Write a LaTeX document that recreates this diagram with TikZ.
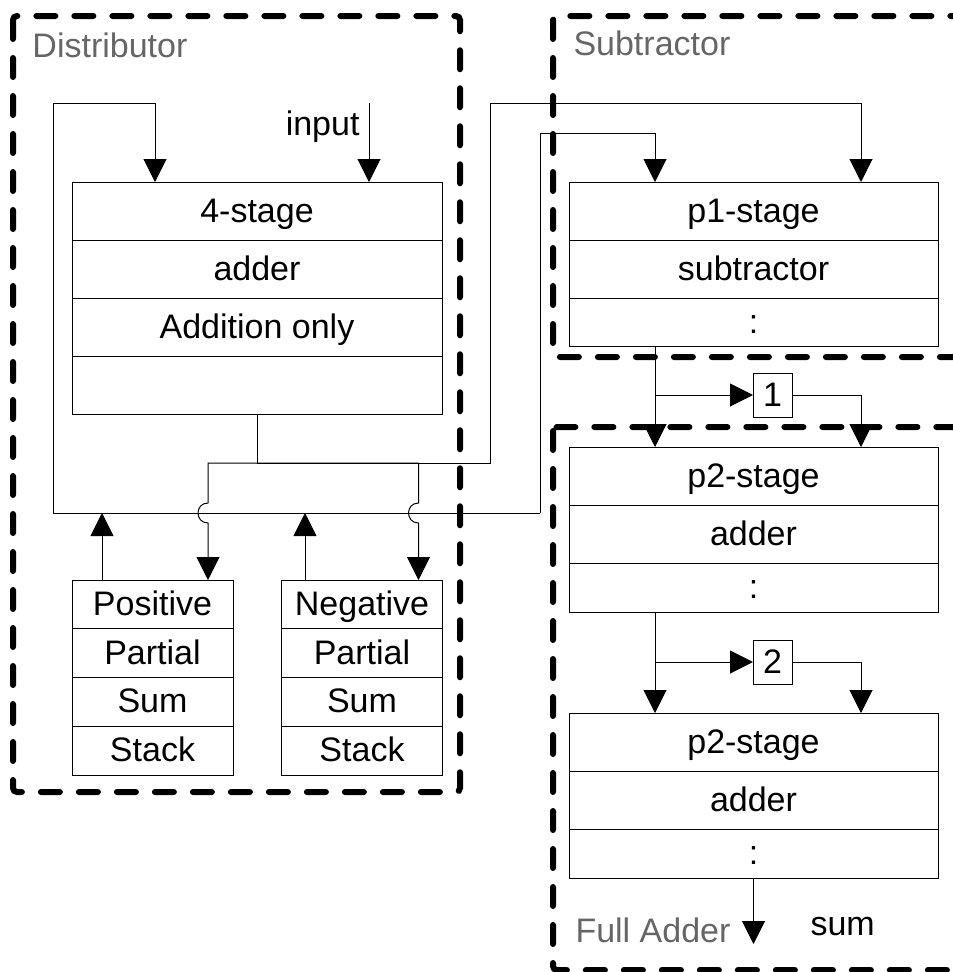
\documentclass[tikz,border=0pt]{standalone}
\usepackage{fontspec}
\setmainfont{Liberation Sans}
\usetikzlibrary{arrows.meta,calc}
\newcommand\diagfont{\fontsize{25.5pt}{30pt}\selectfont}
\begin{document}
\begin{tikzpicture}[x=0.75pt,y=-0.75pt,
  line width=0.75pt,
  cell/.style={draw, inner sep=0pt, outer sep=0pt, minimum height=43.5pt,
    text height=18.5pt, text depth=2pt, font=\diagfont},
  wide/.style={cell, minimum width=277.5pt},
  pcell/.style={cell, minimum width=276.75pt},
  stackcell/.style={cell, minimum width=120.75pt, minimum height=36.5625pt},
  delay/.style={cell, minimum width=29.25pt, minimum height=33pt},
  frame/.style={draw, line width=4.5pt, dash pattern=on 14.25pt off 14.25pt,
    line cap=round, rounded corners=3pt},
  framelabel/.style={anchor=base west, inner sep=0pt, text=black!60, font=\diagfont},
  plain/.style={anchor=base west, inner sep=0pt, font=\diagfont},
  arr/.style={-{Triangle[length=17.25pt,width=17.25pt]}},
]
\useasboundingbox (0,0) rectangle (953,972);
\clip (0,0) rectangle (953,972);

% group frames
\draw[frame] (13,16) rectangle (460,792);
\draw[frame] (553,16) rectangle (957,357);
\draw[frame] (553,427) rectangle (957,970);

\node[framelabel] (lblDist) at (32,57) {Distributor};
\node[framelabel] (lblSub) at (573,55) {Subtractor};
\node[framelabel] (lblFA) at (575,942) {Full Adder};
\node[plain] (lblSum) at (810,935) {sum};
\node[plain, anchor=base east] (lblIn) at (360,135) {input};

% 4-stage adder
\node[wide] (add1) at (257,211) {4-stage};
\node[wide] (add2) at (257,269) {adder};
\node[wide] (add3) at (257,327) {Addition only};
\node[wide] (add4) at (257,385) {};

% partial sum stacks
\node[stackcell] (pos1) at (152.5,604.375) {Positive};
\node[stackcell] (pos2) at (152.5,653.125) {Partial};
\node[stackcell] (pos3) at (152.5,701.875) {Sum};
\node[stackcell] (pos4) at (152.5,750.625) {Stack};
\node[stackcell] (neg1) at (362,604.375) {Negative};
\node[stackcell] (neg2) at (362,653.125) {Partial};
\node[stackcell] (neg3) at (362,701.875) {Sum};
\node[stackcell] (neg4) at (362,750.625) {Stack};

% subtractor stage
\node[pcell] (sub1) at (753.5,211) {p1-stage};
\node[pcell] (sub2) at (753.5,269) {subtractor};
\node[pcell, minimum height=36pt] (sub3) at (753.5,322) {:};

% full adder stages
\node[pcell] (fa1) at (753.5,476) {p2-stage};
\node[pcell] (fa2) at (753.5,534) {adder};
\node[pcell, minimum height=36.75pt] (fa3) at (753.5,587.5) {:};
\node[pcell] (fb1) at (753.5,742) {p2-stage};
\node[pcell] (fb2) at (753.5,800) {adder};
\node[pcell, minimum height=36.75pt] (fb3) at (753.5,853.5) {:};

% delay elements
\node[delay] (d1) at (772.5,395) {1};
\node[delay] (d2) at (772.5,662) {2};

% ports
\path (add1.north west) ++(83,0) coordinate (addInL) ++(214,0) coordinate (addInR);
\path (add4.south) coordinate (addOut) ++(0,49) coordinate (outJ);
\path (pos1.north west) ++(30,0) coordinate (posUp);
\path (pos1.north east) ++(-25,0) coordinate (posIn);
\path (neg1.north west) ++(23.5,0) coordinate (negUp);
\path (neg1.north east) ++(-24,0) coordinate (negIn);
\path (sub1.north west) ++(86,0) coordinate (subInL);
\path (sub1.north east) ++(-77,0) coordinate (subInR);
\path (fa1.north west) ++(86,0) coordinate (faInL);
\path (fa1.north east) ++(-77,0) coordinate (faInR);
\path (fb1.north west) ++(86,0) coordinate (fbInL);
\path (fb1.north east) ++(-77,0) coordinate (fbInR);
\path (sub3.south west) ++(86,0) coordinate (subOut);
\path (fa3.south west) ++(86,0) coordinate (faOut);

% routing points
\coordinate (busL) at (53,513);
\coordinate (busR) at (540,513);
\coordinate (bendTL) at (53,103);
\coordinate (bendTM) at (540,133);
\coordinate (bendTR) at (490,103);
\coordinate (inTop) at (369,103);
\coordinate (sumEnd) at (753.5,944);

% feedback from the stacks
\draw[arr] (posUp) -- (posUp |- busL);
\draw[arr] (negUp) -- (negUp |- busL);
\draw[arr] (busR) -- (busL) -- (bendTL) -| (addInL);
\draw[arr] (busR) -- (bendTM) -| (subInL);

% adder output
\draw (addOut) -- (outJ);
\draw[arr] (outJ) -| (bendTR) -| (subInR);
\draw[arr] (outJ) -| ($(posIn |- busL)+(0,-10)$)
  .. controls +(-13.3,0) and +(-13.3,0) .. ($(posIn |- busL)+(0,10)$) -- (posIn);
\draw[arr] (outJ) -| ($(negIn |- busL)+(0,-10)$)
  .. controls +(-13.3,0) and +(-13.3,0) .. ($(negIn |- busL)+(0,10)$) -- (negIn);

% external input
\draw[arr] (inTop) -- (addInR);

% subtractor to first full adder stage
\draw[arr] (subOut) -- (faInL);
\draw[arr] (subOut |- d1) -- (d1);
\draw[arr] (d1) -| (faInR);

% first to second full adder stage
\draw[arr] (faOut) -- (fbInL);
\draw[arr] (faOut |- d2) -- (d2);
\draw[arr] (d2) -| (fbInR);

% result
\draw[arr] (fb3.south) -- (sumEnd);
\end{tikzpicture}
\end{document}
